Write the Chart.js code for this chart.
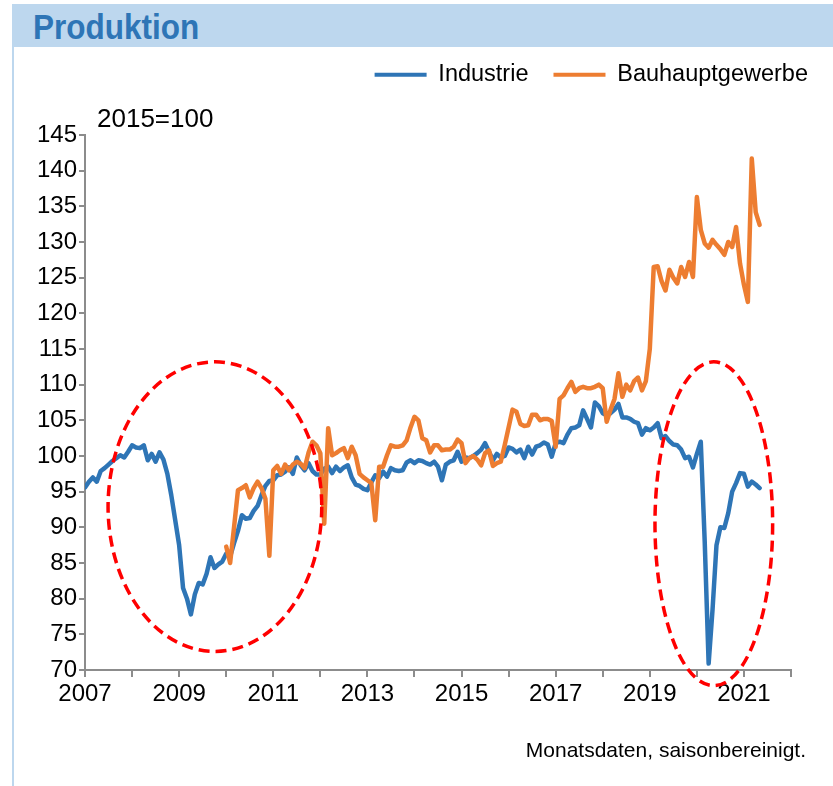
<!DOCTYPE html>
<html>
<head>
<meta charset="utf-8">
<script src="https://cdn.jsdelivr.net/npm/chart.js@4.4.1/dist/chart.umd.min.js"></script>
<style>
html,body{margin:0;padding:0;background:#fff;}
body{width:833px;height:786px;position:relative;overflow:hidden;font-family:"Liberation Sans",Arial,sans-serif;}
#panel{position:absolute;left:12px;top:4px;width:821px;height:782px;border-left:2px solid #BDD7EE;box-sizing:border-box;}
#title{position:absolute;left:12px;top:4px;width:821px;height:43px;background:#BDD7EE;}
#title span{position:absolute;left:21px;top:5px;font-weight:bold;font-size:35px;line-height:35px;color:#2E75B6;transform:scaleX(0.9);transform-origin:left top;white-space:nowrap;}
#base{position:absolute;left:97px;top:105px;font-size:26px;line-height:26px;color:#000;}
#note{position:absolute;right:27px;top:739px;font-size:21px;line-height:21px;color:#000;}
#c{position:absolute;left:0;top:0;}
</style>
</head>
<body>
<div id="panel"></div>
<div id="title"><span>Produktion</span></div>
<canvas id="c" width="833" height="786"></canvas>
<div id="base">2015=100</div>
<div id="note">Monatsdaten, saisonbereinigt.</div>
<script>
// Monthly data, index 2015=100
const industrieStart = 2007; // January 2007
const industrie = [
  95.6, 96.4, 97.0, 96.4, 97.9, 98.3, 98.8, 99.3, 99.7, 100.1, 99.8, 100.6,
  101.5, 101.2, 101.1, 101.5, 99.4, 100.3, 99.2, 100.5, 99.5, 97.5, 94.5, 91.0,
  87.5, 81.5, 80.0, 77.8, 80.6, 82.2, 82.0, 83.5, 85.8, 84.3, 84.8, 85.2,
  86.3, 85.9, 87.8, 89.5, 91.7, 91.2, 91.3, 92.3, 93.0, 94.5, 95.8, 96.5,
  96.6, 97.3, 97.4, 97.8, 98.4, 97.5, 99.8, 98.7, 98.0, 99.0, 97.9, 97.4,
  97.4, 98.2, 98.5, 97.6, 98.5, 97.9, 98.4, 98.7, 97.0, 96.0, 95.8, 95.4,
  95.2, 96.3, 97.3, 96.9, 97.8, 97.1, 98.3, 98.0, 97.9, 98.0, 99.1, 99.4,
  99.0, 99.4, 99.3, 99.0, 98.8, 99.2, 98.5, 96.6, 98.8, 99.2, 99.4, 100.6,
  99.2, 99.8, 99.7, 100.0, 100.4, 100.9, 101.8, 100.6, 99.4, 100.3, 99.8, 100.0,
  101.2, 101.0, 100.5, 100.9, 99.7, 101.3, 100.2, 101.3, 101.5, 101.9, 101.6, 99.9,
  101.8, 102.0, 101.8, 103.0, 103.9, 104.0, 104.3, 106.4, 105.2, 104.0, 107.5, 107.0,
  106.0, 105.7, 106.0, 106.5, 107.3, 105.4, 105.4, 105.2, 104.8, 104.6, 103.0, 103.9,
  103.6, 104.0, 104.6, 102.5, 102.8, 102.1, 101.6, 101.5, 100.9, 99.7, 99.9, 98.4,
  100.3, 102.0, 88.0, 70.9, 78.5, 87.5, 90.0, 89.9, 92.0, 95.0, 96.2, 97.6,
  97.5, 95.7, 96.4, 96.0, 95.5
];
const bauStart = 2010; // January 2010
const bau = [
  87.3, 85.0, 90.0, 95.2, 95.5, 95.9, 94.2, 95.5, 96.4, 95.5, 94.0, 86.0,
  98.0, 98.6, 97.5, 98.8, 98.0, 98.8, 99.2, 98.9, 98.3, 100.5, 102.0, 101.5,
  100.4, 90.5, 103.9, 100.1, 100.4, 100.8, 101.1, 99.7, 101.3, 100.1, 97.5, 97.0,
  96.6, 96.2, 91.0, 98.5, 98.5, 100.1, 101.5, 101.3, 101.3, 101.5, 102.2, 104.0,
  105.5, 105.0, 102.5, 102.2, 100.5, 101.5, 101.5, 100.8, 100.9, 100.9, 101.3, 102.3,
  101.8, 99.0, 99.7, 100.0, 99.5, 98.7, 100.4, 100.8, 98.6, 99.0, 99.2, 101.5,
  104.0, 106.5, 106.2, 104.5, 104.2, 104.3, 105.8, 105.8, 105.0, 105.2, 105.2, 104.9,
  101.3, 108.0, 108.5, 109.5, 110.4, 109.0, 109.5, 109.7, 109.5, 109.5, 109.7, 110.0,
  109.5, 104.8, 106.5, 108.0, 111.6, 108.3, 110.0, 109.2, 110.5, 111.0, 109.2, 110.5,
  115.0, 126.5, 126.6, 124.5, 123.2, 126.1, 125.0, 124.2, 126.5, 125.1, 127.2, 125.1,
  136.3, 131.7, 129.8, 129.2, 130.3, 129.6, 129.0, 128.2, 130.0, 129.3, 132.1, 127.0,
  124.0, 121.6, 141.7, 134.2, 132.4
];
const yearLabels = [2007, 2009, 2011, 2013, 2015, 2017, 2019, 2021];
const yTicks = {min: 70, max: 145, step: 5};
const seriesNames = ['Industrie', 'Bauhauptgewerbe'];

// highlighted regions (data coordinates: year, index value)
const highlights = [
  {cx: 2009.76, cy: 92.9, rx: 2.27, ry: 20.3},
  {cx: 2020.36, cy: 90.5, rx: 1.25, ry: 22.7}
];

const toPoints = (arr, start) => arr.map((v, i) => ({x: start + i / 12, y: v}));

const legendFix = {
  id: 'legendFix',
  beforeLayout(chart) {
    const lg = chart.legend;
    if (lg && !lg._fixed) {
      const f = lg.fit;
      lg.fit = function () { f.call(this); this.height = 97; };
      lg._fixed = true;
    }
  }
};

const ellipsePlugin = {
  id: 'ellipses',
  afterDatasetsDraw(chart) {
    const {ctx, scales: {x, y}} = chart;
    ctx.save();
    ctx.strokeStyle = '#FF0000';
    ctx.lineWidth = 3.5;
    ctx.setLineDash([11, 6]);
    highlights.forEach(e => {
      const px = x.getPixelForValue(e.cx), py = y.getPixelForValue(e.cy);
      const rx = x.getPixelForValue(e.cx + e.rx) - px;
      const ry = py - y.getPixelForValue(e.cy + e.ry);
      ctx.beginPath();
      ctx.ellipse(px, py, rx, ry, 0, 0, Math.PI * 2);
      ctx.stroke();
    });
    ctx.restore();
  }
};

Chart.defaults.font.family = '"Liberation Sans", Arial, sans-serif';
Chart.defaults.color = '#000';

new Chart(document.getElementById('c'), {
  type: 'line',
  data: {
    datasets: [
      {label: seriesNames[0], data: toPoints(industrie, industrieStart), borderColor: '#2E75B6', backgroundColor: '#2E75B6',
       borderWidth: 4.5, pointRadius: 0, tension: 0, borderJoinStyle: 'round', borderCapStyle: 'round', order: 1},
      {label: seriesNames[1], data: toPoints(bau, bauStart), borderColor: '#ED7D31', backgroundColor: '#ED7D31',
       borderWidth: 4.5, pointRadius: 0, tension: 0, borderJoinStyle: 'round', borderCapStyle: 'round', order: 0}
    ]
  },
  options: {
    responsive: false,
    animation: false,
    layout: {padding: {left: 0, right: 0, top: 38, bottom: 0}},
    plugins: {
      tooltip: {enabled: false},
      legend: {
        position: 'top', align: 'end',
        labels: {
          boxWidth: 52, boxHeight: 4, padding: 25, font: {size: 23.5}, color: '#000',
          sort: (a, b) => a.datasetIndex - b.datasetIndex,
          generateLabels(chart) {
            return chart.data.datasets.map((d, i) => ({
              text: d.label, fillStyle: d.borderColor, strokeStyle: d.borderColor, lineWidth: 0, datasetIndex: i, hidden: false
            }));
          }
        }
      }
    },
    scales: {
      x: {
        type: 'linear', min: 2007, max: 2022,
        ticks: {stepSize: 1, autoSkip: false, maxRotation: 0, font: {size: 24}, color: '#000', padding: 3,
          callback: v => yearLabels.includes(Math.round(v)) ? String(Math.round(v)) : ''},
        grid: {drawOnChartArea: false, tickLength: 7, color: '#8c8c8c', lineWidth: 2},
        border: {color: '#8c8c8c', width: 2},
        afterFit: s => { s.height = 116; }
      },
      y: {
        min: yTicks.min, max: yTicks.max,
        ticks: {stepSize: yTicks.step, font: {size: 24}, color: '#000', padding: 2},
        grid: {drawOnChartArea: false, tickLength: 6, color: '#8c8c8c', lineWidth: 2},
        border: {color: '#8c8c8c', width: 2},
        afterFit: s => { s.width = 85; }
      },
      yr: {
        position: 'right', display: true,
        grid: {display: false}, border: {display: false}, ticks: {display: false},
        afterFit: s => { s.width = 42; }
      }
    }
  },
  plugins: [legendFix, ellipsePlugin]
});
</script>
</body>
</html>
